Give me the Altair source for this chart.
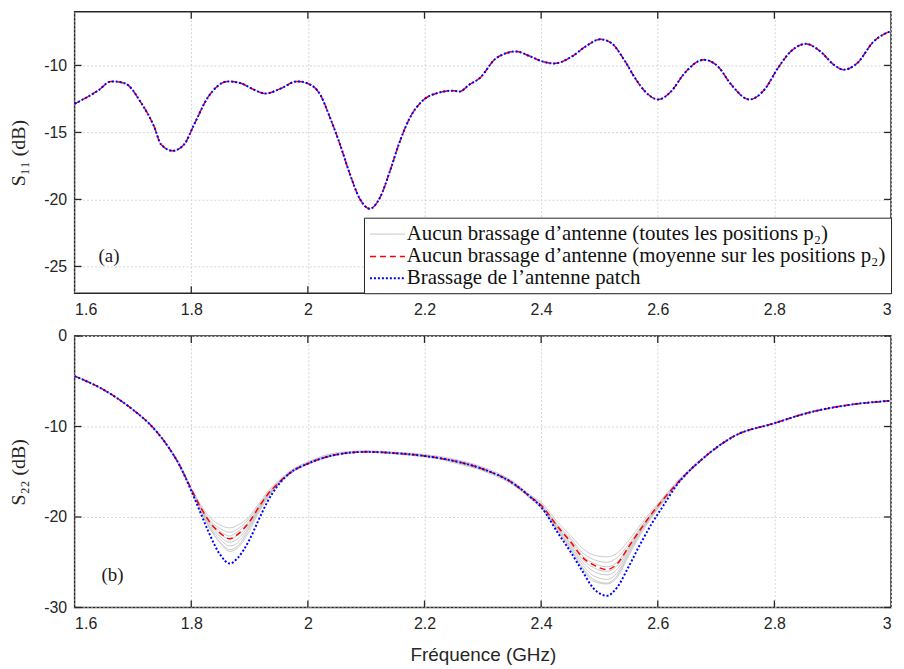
import altair as alt
import pandas as pd

# ---------------- data ----------------
F11 = [1.600, 1.640, 1.663, 1.686, 1.714, 1.737, 1.748, 1.768, 1.788, 1.805, 1.828, 1.845,
       1.862, 1.885, 1.907, 1.927, 1.953, 1.981, 2.004, 2.021, 2.038, 2.055, 2.072, 2.089,
       2.106, 2.124, 2.141, 2.158, 2.175, 2.197, 2.223, 2.249, 2.260, 2.277, 2.294, 2.323,
       2.357, 2.379, 2.402, 2.422, 2.453, 2.476, 2.502, 2.521, 2.544, 2.561, 2.578, 2.601,
       2.623, 2.646, 2.679, 2.703, 2.726, 2.757, 2.783, 2.806, 2.828, 2.854, 2.879, 2.902,
       2.919, 2.942, 2.970, 3.000]
S11 = [-12.87, -11.88, -11.19, -11.33, -12.79, -14.64, -15.88, -16.37, -15.88, -14.40, -12.42, -11.55,
       -11.19, -11.33, -11.80, -12.10, -11.73, -11.19, -11.43, -12.17, -13.90, -15.88, -18.10, -19.95,
       -20.69, -19.83, -17.85, -15.63, -13.90, -12.62, -12.05, -11.88, -11.95, -11.43, -10.97, -9.46,
       -8.96, -9.28, -9.70, -9.85, -9.33, -8.59, -8.05, -8.35, -9.70, -10.94, -11.93, -12.54,
       -11.93, -10.57, -9.58, -10.07, -11.43, -12.54, -11.80, -10.20, -8.96, -8.39, -8.96, -9.95,
       -10.32, -9.83, -8.22, -7.43]

F22 = [1.60, 1.65, 1.70, 1.73, 1.76, 1.78, 1.80, 1.815, 1.83, 1.85, 1.866, 1.88, 1.90, 1.915,
       1.93, 1.95, 1.97, 2.00, 2.05, 2.10, 2.15, 2.20, 2.25, 2.30, 2.35, 2.38, 2.40, 2.43, 2.45,
       2.47, 2.49, 2.513, 2.53, 2.55, 2.57, 2.59, 2.61, 2.63, 2.68, 2.73, 2.80, 2.86, 2.93, 3.00]
S22_MEAN = [-4.43, -5.95, -8.15, -9.82, -12.2, -14.3, -16.9, -18.8, -20.4, -21.8, -22.4, -21.9, -20.5, -19.0,
            -17.6, -16.2, -15.1, -14.1, -13.1, -12.8, -12.95, -13.25, -13.8, -14.7, -16.2, -17.7, -18.7, -21.2, -22.7,
            -24.4, -25.3, -25.8, -25.2, -23.3, -21.4, -19.6, -18.0, -16.5, -13.4, -11.1, -9.64, -8.45, -7.6, -7.15]
S22_PATCH = [-4.43, -5.95, -8.15, -9.82, -12.2, -14.3, -17.1, -19.4, -21.7, -24.2, -25.15, -24.5, -22.5, -20.4,
             -18.4, -16.4, -15.1, -14.1, -13.1, -12.8, -12.95, -13.25, -13.8, -14.7, -16.2, -17.7, -18.9, -21.9, -23.8,
             -25.9, -27.9, -28.7, -27.8, -25.5, -23.0, -20.7, -18.7, -16.7, -13.4, -11.1, -9.64, -8.45, -7.6, -7.15]
S22_G1 = [-4.43, -5.95, -8.10, -9.75, -12.10, -14.10, -16.8, -18.5, -19.9, -20.9, -21.2, -20.9, -19.9, -18.6, -17.3, -16.0,
          -14.9, -13.9, -12.9, -12.7, -12.85, -13.1, -13.6, -14.5, -16.0, -17.5, -18.4, -20.7, -22.0, -23.4, -24.2, -24.4,
          -24.0, -22.6, -20.9, -19.3, -17.8, -16.3, -13.3, -11.05, -9.6, -8.43, -7.6, -7.15]
S22_G2 = [-4.43, -5.96, -8.14, -9.80, -12.15, -14.20, -16.9, -18.7, -20.2, -21.3, -21.7, -21.3, -20.1, -18.8, -17.5, -16.1,
          -15.0, -14.0, -13.0, -12.75, -12.9, -13.2, -13.9, -14.8, -16.1, -17.6, -18.6, -21.0, -22.3, -23.9, -24.7, -25.0,
          -24.5, -23.0, -21.2, -19.5, -17.9, -16.4, -13.35, -11.1, -9.63, -8.45, -7.6, -7.15]
S22_G3 = [-4.43, -5.95, -8.16, -9.83, -12.22, -14.30, -17.0, -18.9, -20.4, -21.6, -22.1, -21.6, -20.4, -19.0, -17.6, -16.2,
          -15.1, -14.15, -13.15, -12.85, -13.0, -13.3, -13.7, -14.6, -16.3, -17.7, -18.7, -21.1, -22.5, -24.2, -25.1, -25.5,
          -25.0, -23.3, -21.3, -19.6, -18.0, -16.5, -13.4, -11.1, -9.64, -8.45, -7.6, -7.15]
S22_G4 = [-4.43, -5.95, -8.15, -9.85, -12.25, -14.35, -16.9, -18.8, -20.5, -21.9, -22.4, -22.0, -20.6, -19.1, -17.7, -16.2,
          -15.2, -14.2, -13.1, -12.8, -13.05, -13.35, -13.85, -14.8, -16.2, -17.7, -18.8, -21.3, -22.8, -24.6, -25.6, -26.0,
          -25.4, -23.5, -21.5, -19.7, -18.1, -16.5, -13.4, -11.1, -9.65, -8.46, -7.6, -7.15]
S22_G5 = [-4.43, -5.95, -8.17, -9.86, -12.28, -14.40, -17.0, -19.0, -20.7, -22.2, -22.8, -22.4, -20.8, -19.2, -17.7, -16.3,
          -15.2, -14.1, -13.1, -12.85, -12.95, -13.2, -14.0, -14.9, -16.4, -17.8, -18.9, -21.4, -23.0, -24.9, -26.0, -26.4,
          -25.8, -23.7, -21.6, -19.8, -18.1, -16.6, -13.45, -11.15, -9.66, -8.46, -7.61, -7.15]
S22_G6 = [-4.43, -5.94, -8.15, -9.84, -12.24, -14.35, -17.0, -19.1, -20.9, -22.5, -23.2, -22.8, -21.0, -19.3, -17.8, -16.3,
          -15.1, -14.05, -13.05, -12.8, -12.9, -13.3, -13.8, -14.65, -16.3, -17.8, -18.9, -21.5, -23.2, -25.2, -26.5, -26.9,
          -26.2, -23.9, -21.7, -19.9, -18.2, -16.6, -13.4, -11.1, -9.64, -8.45, -7.6, -7.15]
S22_G7 = [-4.43, -5.95, -8.16, -9.85, -12.26, -14.40, -17.1, -19.2, -21.1, -22.8, -23.6, -23.2, -21.2, -19.4, -17.9, -16.3,
          -15.15, -14.1, -13.1, -12.8, -12.95, -13.25, -13.75, -14.75, -16.2, -17.9, -19.0, -21.7, -23.5, -25.5, -26.9, -27.3,
          -26.5, -24.1, -21.8, -19.9, -18.2, -16.7, -13.45, -11.1, -9.65, -8.45, -7.6, -7.15]
S22_G8 = [-4.43, -5.95, -8.15, -9.82, -12.22, -14.35, -17.0, -19.0, -21.0, -22.9, -23.8, -23.4, -21.5, -19.6, -18.0, -16.4,
          -15.2, -14.15, -13.1, -12.8, -12.95, -13.3, -13.85, -14.7, -16.25, -17.8, -19.0, -21.6, -23.4, -25.6, -27.1, -27.4,
          -26.7, -24.3, -22.0, -20.0, -18.3, -16.7, -13.4, -11.1, -9.64, -8.45, -7.6, -7.15]
S22_ALL = [S22_G1, S22_G2, S22_G3, S22_G4, S22_G5, S22_G6, S22_G7, S22_G8]

X_TICKS = [1.6, 1.8, 2.0, 2.2, 2.4, 2.6, 2.8, 3.0]
Y11_TICKS = [-25, -20, -15, -10]
Y22_TICKS = [-30, -20, -10, 0]

LABELS = ["Aucun brassage d’antenne (toutes les positions p₂)",
          "Aucun brassage d’antenne (moyenne sur les positions p₂)",
          "Brassage de l’antenne patch"]
COLORS = ["#c4c4c4", "#ff0000", "#0000ff"]
DASHES = [[1, 0], [6, 4], [2, 2]]
WIDTHS = [1.0, 2.0, 2.0]

# ---------------- tables ----------------
rows11 = []
for i, lab in enumerate(LABELS):
    for f, v in zip(F11, S11):
        rows11.append({"f": f, "v": v, "series": lab, "curve": f"c{i}"})
df11 = pd.DataFrame(rows11)

rows22 = []
for k, g in enumerate(S22_ALL):
    for f, v in zip(F22, g):
        rows22.append({"f": f, "v": v, "series": LABELS[0], "curve": f"g{k}"})
for f, v in zip(F22, S22_MEAN):
    rows22.append({"f": f, "v": v, "series": LABELS[1], "curve": "mean"})
for f, v in zip(F22, S22_PATCH):
    rows22.append({"f": f, "v": v, "series": LABELS[2], "curve": "patch"})
df22 = pd.DataFrame(rows22)

W = 821
H1 = 283
H2 = 273
TICK = 7
FRAME = "#262626"

xscale = alt.Scale(domain=[1.6, 3.0], nice=False, zero=False)


def panel(df, ydomain, yticks, ytitle, height, legend, tag, show_xtitle):
    yscale = alt.Scale(domain=ydomain, nice=False, zero=False)
    xaxis = alt.Axis(values=X_TICKS, format="~g", title="Fréquence (GHz)" if show_xtitle else None)
    yaxis = alt.Axis(values=yticks, format="d", title=ytitle,
                     labelExpr="replace(datum.label, '\u2212', '-')")
    base = alt.Chart(df)
    layers = []
    for i, lab in enumerate(LABELS):
        layers.append(
            base.transform_filter(alt.datum.series == lab)
            .mark_line(interpolate="monotone")
            .encode(
                x=alt.X("f:Q", scale=xscale, axis=xaxis),
                y=alt.Y("v:Q", scale=yscale, axis=yaxis),
                detail="curve:N",
                color=alt.Color("series:N", scale=alt.Scale(domain=LABELS, range=COLORS), legend=legend),
                strokeDash=alt.StrokeDash("series:N", scale=alt.Scale(domain=LABELS, range=DASHES), legend=legend),
                strokeWidth=alt.StrokeWidth("series:N", scale=alt.Scale(domain=LABELS, range=WIDTHS), legend=legend),
            )
        )
    xt = alt.Chart(pd.DataFrame({"f": X_TICKS[1:-1]}))
    yt = alt.Chart(pd.DataFrame({"v": yticks}))
    tick_layers = [
        xt.mark_rule(color=FRAME, strokeWidth=1.3).encode(
            x=alt.X("f:Q", scale=xscale, axis=xaxis), y=alt.value(0), y2=alt.value(TICK)),
        xt.mark_rule(color=FRAME, strokeWidth=1.3).encode(
            x=alt.X("f:Q", scale=xscale, axis=xaxis), y=alt.value(height), y2=alt.value(height - TICK)),
        yt.mark_rule(color=FRAME, strokeWidth=1.3).encode(
            y=alt.Y("v:Q", scale=yscale, axis=yaxis), x=alt.value(0), x2=alt.value(TICK)),
        yt.mark_rule(color=FRAME, strokeWidth=1.3).encode(
            y=alt.Y("v:Q", scale=yscale, axis=yaxis), x=alt.value(W - TICK), x2=alt.value(W)),
    ]
    txt = alt.Chart(pd.DataFrame({"t": [tag[0]]})).mark_text(
        font="Liberation Serif", fontSize=19, align="left", baseline="middle", color="#1a1a1a"
    ).encode(x=alt.value(tag[1]), y=alt.value(tag[2]), text="t:N")
    return alt.layer(*layers, *tick_layers, txt).properties(width=W, height=height)


legend_top = alt.Legend(
    title=None, orient="bottom-right", offset=0,
    labelFont="Liberation Serif", labelFontSize=21, labelColor="#111111", labelLimit=800,
    symbolType="M-1,0H2.2", symbolSize=484, symbolOffset=0,
    fillColor="white", strokeColor=FRAME, padding=5, rowPadding=0, labelOffset=14,
)

top = panel(df11, [-27, -6], Y11_TICKS, "S₁₁ (dB)", H1, legend_top, ("(a)", 24, 246), False)
bottom = panel(df22, [-30, 0], Y22_TICKS, "S₂₂ (dB)", H2, None, ("(b)", 27, 240), True)

chart = (
    alt.vconcat(top, bottom, spacing=9)
    .resolve_scale(color="independent", strokeDash="independent", strokeWidth="independent")
    .properties(padding={"left": 0, "top": 0, "right": 0, "bottom": 0})
    .configure_view(stroke=FRAME, strokeWidth=1.5)
    .configure_axis(
        labelFont="Liberation Sans", labelFontSize=16, labelColor=FRAME,
        titleFont="Liberation Sans", titleFontSize=19, titleFontWeight="normal", titleColor=FRAME,
        ticks=False, domain=False, grid=True, gridColor="#d6d6d6", gridDash=[2, 2], gridWidth=1,
        labelPadding=8,
    )
    .configure_axisY(titleFont="Liberation Serif", titleFontSize=20, titlePadding=12,
                     minExtent=34, maxExtent=34)
    .configure_axisX(titlePadding=14)
)

chart.save("out.html", embed_options={"renderer": "svg", "actions": False})
